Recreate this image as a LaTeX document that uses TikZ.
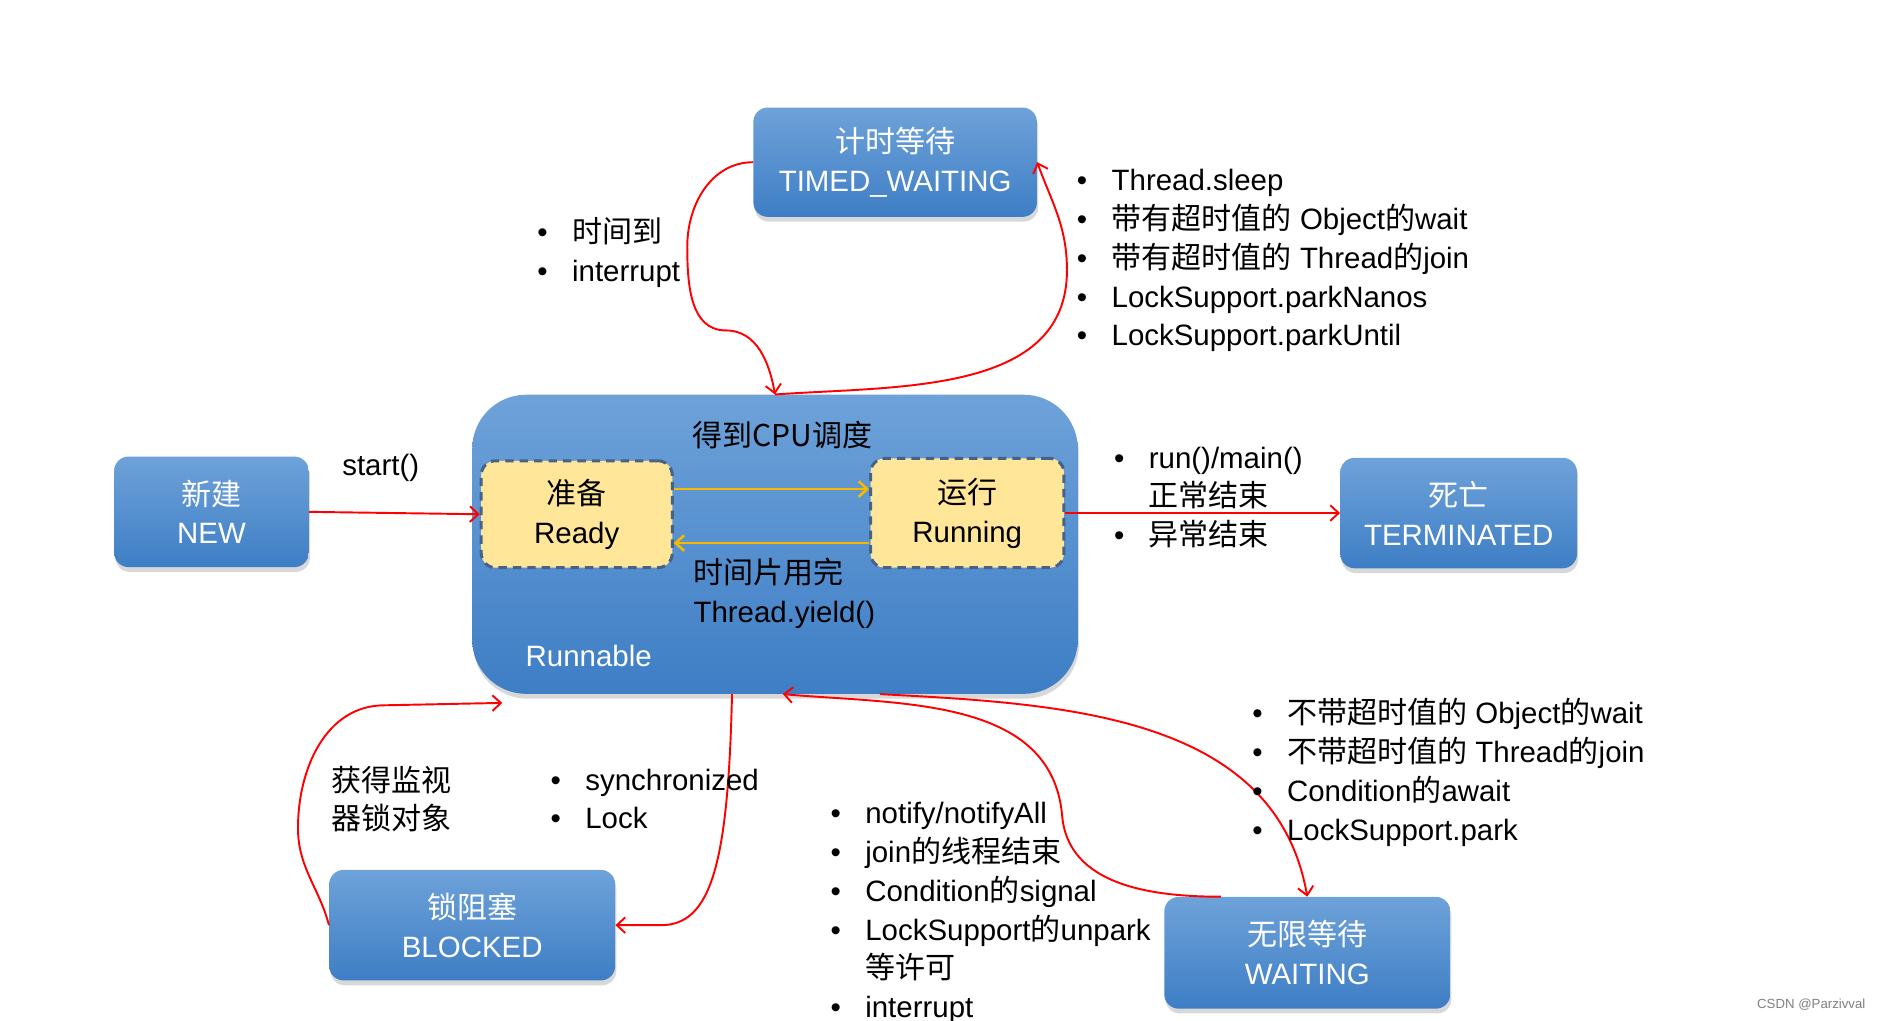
\documentclass[tikz,border=0pt]{standalone}
\usepackage{fontspec}
\setmainfont{Liberation Sans}
\newfontfamily\cjk[Scale=1.02]{Noto Sans CJK SC}
\usetikzlibrary{arrows.meta,shadows}
\definecolor{boxtop}{RGB}{110,162,217}
\definecolor{boxbot}{RGB}{62,126,197}
\definecolor{readyfill}{RGB}{255,230,153}
\definecolor{dashblue}{RGB}{70,98,135}
\definecolor{ylw}{RGB}{245,185,0}
\newcommand{\zh}[1]{{\cjk #1}}
\newcommand{\itm}[1]{\makebox[29pt][l]{•}#1}
\newcommand{\bodyfont}{\fontsize{24.5}{32.3}\selectfont\lineskiplimit=-100pt}
\tikzset{>={Straight Barb[length=7pt,width=13pt]}}
\tikzset{
  statebox/.style = {rounded corners=12pt, top color=boxtop, bottom color=boxbot,
    text=white, align=center, inner sep=0pt, minimum height=92pt,
    drop shadow={shadow xshift=1pt, shadow yshift=-4pt, opacity=0.3}},
  phasebox/.style = {rounded corners=12pt, fill=readyfill, draw=dashblue,
    line width=2.5pt, dash pattern=on 7pt off 5pt, align=center,
    minimum width=159pt, minimum height=89pt},
  trans/.style = {->, red, line width=1.6pt},
  sched/.style = {->, ylw, line width=2.2pt},
  note/.style = {align=left, inner sep=0pt, anchor=west, text=black}
}

\begin{document}
\begin{tikzpicture}[x=1pt,y=1pt,every node/.style={font=\bodyfont}]
  \path[use as bounding box,fill=white] (0,0) rectangle (1568,849);
  % states
  \node[statebox, minimum width=504pt, minimum height=249pt, rounded corners=45pt] (run) at (645,396) {};
  \node[statebox, minimum width=236pt, minimum height=91pt] (tw) at (745,714) {\zh{计时等待}\\TIMED\_WAITING};
  \node[statebox, minimum width=162pt] (new) at (176,423) {\zh{新建}\\NEW};
  \node[statebox, minimum width=197pt] (term) at (1214,422) {\zh{死亡}\\TERMINATED};
  \node[statebox, minimum width=238pt] (blocked) at (393,79) {\zh{锁阻塞}\\BLOCKED};
  \node[statebox, minimum width=238pt, minimum height=93pt] (waiting) at (1088,56) {\zh{无限等待}\\WAITING};
  % inside runnable
  \node[phasebox] (ready) at (480,421) {\zh{准备}\\Ready};
  \node[phasebox, minimum width=161pt, minimum height=91pt] (running) at (805,422) {\zh{运行}\\Running};
  \node (cpu) at (651,487) {\zh{得到CPU调度}};
  \node[note] (slice) at (577,355) {\zh{时间片用完}\\Thread.yield()};
  \node[text=white] (rlabel) at (490,303) {Runnable};
  \draw[sched] ([yshift=21]ready.east) -- ([yshift=20]running.west);
  \draw[sched] ([yshift=-25]running.west) -- ([yshift=-24]ready.east);
  % transitions
  \draw[trans] (new.east) -- node[pos=0.42, above=22pt, text=black] {start()} (ready.west);
  \draw[trans] (running.east) -- (term.west);
  \draw[trans] (tw.west) to[out=180,in=90] (572,644) to[out=-90,in=180] (604,574) to[out=0,in=100] (run.north);
  \draw[trans] (run.north) to[out=4,in=-90] (888,624) to[out=90,in=-70] (tw.east);
  \draw[trans] (run.-106) .. controls (606,130) and (592,79) .. (550,79) -- (blocked.east);
  \coordinate (rsw) at (418,264);
  \draw[trans] (blocked.west) to[out=105,in=-90] (248,160) to[out=90,in=180] (320,262) -- (rsw);
  \draw[trans] (waiting.147) to[out=180,in=-85] (884,170) to[out=95,in=-5] (run.-87);
  \draw[trans] (run.-55) to[out=-3,in=100] (waiting.north);
  % labels
  \node[note] (twin) at (447,639) {\itm{\zh{时间到}}\\\itm{interrupt}};
  \node[note] (twout) at (896,632) {\itm{Thread.sleep}\\\itm{\zh{带有超时值的} Object\zh{的}wait}\\\itm{\zh{带有超时值的} Thread\zh{的}join}\\\itm{LockSupport.parkNanos}\\\itm{LockSupport.parkUntil}};
  \node[note] (endl) at (927,435) {\itm{run()/main()}\\\hspace*{29pt}\zh{正常结束}\\\itm{\zh{异常结束}}};
  \node[note] (waitl) at (1042,206) {\itm{\zh{不带超时值的} Object\zh{的}wait}\\\itm{\zh{不带超时值的} Thread\zh{的}join}\\\itm{Condition\zh{的}await}\\\itm{LockSupport.park}};
  \node[note] (lockl) at (276,184) {\zh{获得监视}\\\zh{器锁对象}};
  \node[note] (syncl) at (458,184) {\itm{synchronized}\\\itm{Lock}};
  \node[note] (notl) at (691,89) {\itm{notify/notifyAll}\\\itm{join\zh{的线程结束}}\\\itm{Condition\zh{的}signal}\\\itm{LockSupport\zh{的}unpark}\\\hspace*{29pt}\zh{等许可}\\\itm{interrupt}};
  \node[anchor=east, text=gray, font=\fontsize{11}{13}\selectfont] (mark) at (1556,13) {CSDN @Parzivval};
\end{tikzpicture}
\end{document}
